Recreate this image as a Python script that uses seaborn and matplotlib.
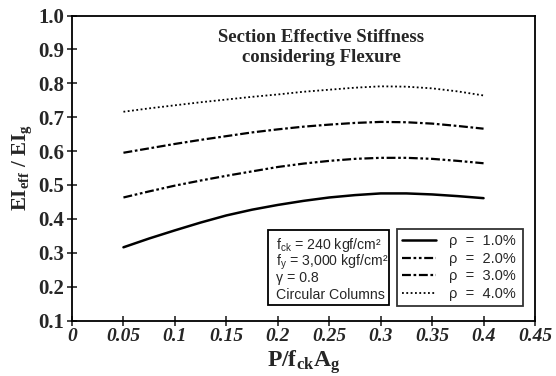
import numpy as np
import pandas as pd
import matplotlib
matplotlib.use("Agg")
import matplotlib.pyplot as plt
import seaborn as sns
from matplotlib.lines import Line2D
from matplotlib.patches import Rectangle

x_vals = [0.05, 0.075, 0.10, 0.125, 0.15, 0.175, 0.20, 0.225, 0.25, 0.275, 0.30, 0.325, 0.35, 0.375, 0.40]
rho_1 = [0.316, 0.342, 0.366, 0.389, 0.410, 0.427, 0.441, 0.453, 0.463, 0.470, 0.475, 0.475, 0.472, 0.467, 0.461]
rho_2 = [0.463, 0.481, 0.498, 0.513, 0.527, 0.540, 0.553, 0.563, 0.571, 0.577, 0.580, 0.580, 0.577, 0.571, 0.564]
rho_3 = [0.595, 0.608, 0.621, 0.633, 0.644, 0.655, 0.664, 0.672, 0.678, 0.683, 0.686, 0.685, 0.681, 0.674, 0.666]
rho_4 = [0.716, 0.726, 0.735, 0.744, 0.752, 0.760, 0.767, 0.775, 0.781, 0.787, 0.791, 0.790, 0.785, 0.776, 0.764]
labels = ["ρ  =  1.0%", "ρ  =  2.0%", "ρ  =  3.0%", "ρ  =  4.0%"]
x_ticks = [0, 0.05, 0.1, 0.15, 0.2, 0.25, 0.3, 0.35, 0.4, 0.45]
x_tick_labels = ["0", "0.05", "0.1", "0.15", "0.2", "0.25", "0.3", "0.35", "0.4", "0.45"]
y_ticks = [0.1, 0.2, 0.3, 0.4, 0.5, 0.6, 0.7, 0.8, 0.9, 1.0]
title_text = "Section Effective Stiffness\nconsidering Flexure"
param_lines = ["f$\\mathregular{_{ck}}$ = 240 kgf/cm²",
               "f$\\mathregular{_{y}}$ = 3,000 kgf/cm²",
               "γ = 0.8",
               "Circular Columns"]

sns.set_style("ticks")
plt.rcParams['font.family'] = ['Liberation Serif', 'DejaVu Serif']
plt.rcParams['mathtext.fontset'] = 'custom'
plt.rcParams['mathtext.rm'] = 'Liberation Serif'
plt.rcParams['mathtext.bf'] = 'Liberation Serif:bold'

fig = plt.figure(figsize=(5.56, 3.76), dpi=100)
ax = fig.add_axes([72/556, 1-320.5/376, (535-72)/556, (320.5-15.5)/376])

styles = ["-", (0, (4, 1.2, 1.2, 1.2, 1.2, 1.2)), (0, (4, 1.2, 1.2, 1.2)), (0, (1, 1.4))]
widths = [1.8, 1.6, 1.6, 1.3]
series = [rho_1, rho_2, rho_3, rho_4]
for lab, ys, ls, lw in zip(labels, series, styles, widths):
    df = pd.DataFrame({"x": x_vals, "y": ys})
    sns.lineplot(data=df, x="x", y="y", ax=ax, color="black", linestyle=ls, linewidth=lw)

ax.set_xlim(0, 0.45)
ax.set_ylim(0.1, 1.0)
ax.set_xticks(x_ticks)
ax.set_xticklabels(x_tick_labels, fontsize=14, fontweight="bold", fontstyle="italic")
ax.set_yticks(y_ticks)
ax.set_yticklabels([f"{v:.1f}" for v in y_ticks], fontsize=15, fontweight="bold")
ax.tick_params(direction="inout", length=7, width=1.2, pad=2)
for s in ax.spines.values():
    s.set_linewidth(1.3)
    s.set_color("black")

ax.set_xlabel("P/f$\\mathregular{_{ck}}$A$\\mathregular{_{g}}$", fontsize=17, fontweight="bold", labelpad=2)
ax.set_ylabel("EI$\\mathregular{_{eff}}$ / EI$\\mathregular{_{g}}$", fontsize=15, fontweight="bold", labelpad=3)

ax.text(0.539, 0.896, title_text, transform=ax.transAxes,
        ha="center", va="center", fontsize=13.5, fontweight="bold", linespacing=1.2)

# parameter box
ax.add_patch(Rectangle((0.4233, 0.0508), 0.2614, 0.2459, transform=ax.transAxes,
                       fill=True, fc="white", ec="black", lw=1.3, zorder=4))
for line, yy in zip(param_lines, [0.257, 0.200, 0.143, 0.087]):
    ax.text(0.4406, yy, line, transform=ax.transAxes, ha="left", va="center_baseline",
            fontsize=10.2, fontfamily=["Liberation Sans", "DejaVu Sans"], zorder=5)

handles = [Line2D([0], [0], color="black", linestyle=ls, linewidth=lw) for ls, lw in zip(styles, widths)]
leg = ax.legend(handles, labels, loc="center", bbox_to_anchor=(0.702, 0.0508, 0.272, 0.2459),
                mode="expand", frameon=True, fancybox=False, edgecolor="black",
                handlelength=2.3, handletextpad=0.9, labelspacing=0.24, borderpad=0.35,
                borderaxespad=0.0, prop={"family": ["Liberation Sans", "DejaVu Sans"], "size": 10.5})
leg.get_frame().set_linewidth(1.3)

fig.savefig("out.png", dpi=100)
